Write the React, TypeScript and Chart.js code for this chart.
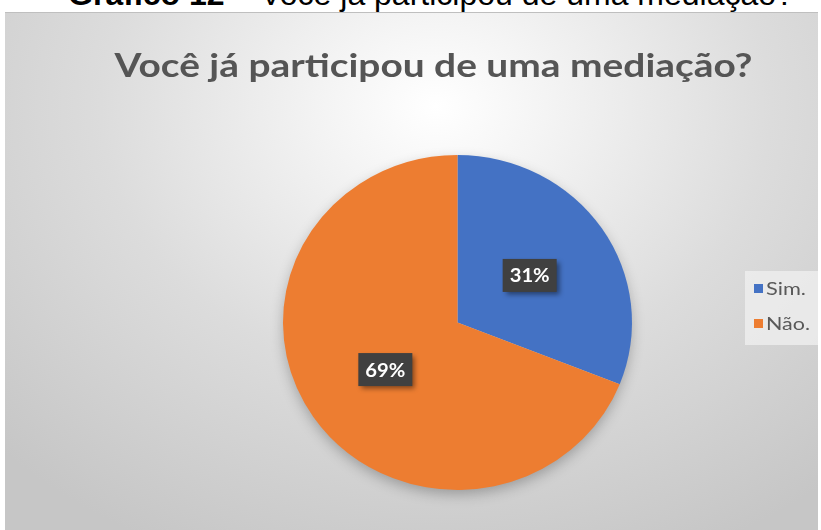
import React, { useEffect, useRef } from "react";
import { Chart, registerables } from "chart.js";

Chart.register(...registerables);

const categories = ["Sim.", "Não."];
const values = [31, 69];
const colors = ["#4472C4", "#ED7D31"];
const chartTitle = "Você já participou de uma mediação?";

const CW = 813;
const CH = 518;
const SX = 174.5 / 167.5; // horizontal stretch of the pie

function stretchedText(
  ctx: CanvasRenderingContext2D,
  text: string,
  x: number,
  y: number,
  width: number,
  align: "left" | "center"
) {
  const w = ctx.measureText(text).width;
  const s = width / w;
  ctx.save();
  ctx.translate(x, y);
  ctx.scale(s, 1);
  ctx.textAlign = align;
  ctx.fillText(text, 0, 0);
  ctx.restore();
}

const decorPlugin = {
  id: "decor",
  beforeDatasetsDraw(chart: any) {
    const ctx = chart.ctx;
    const meta = chart.getDatasetMeta(0);
    const arc = meta.data[0];
    if (!arc) return;
    const { x, y, outerRadius } = arc.getProps(["x", "y", "outerRadius"], true);
    ctx.save();
    ctx.translate(x, y);
    ctx.scale(SX, 1);
    ctx.translate(-x, -y);
    ctx.save();
    ctx.shadowColor = "rgba(0,0,0,0.28)";
    ctx.shadowBlur = 14;
    ctx.shadowOffsetY = 5;
    ctx.fillStyle = "#d0d0d0";
    ctx.beginPath();
    ctx.arc(x, y, outerRadius - 1, 0, Math.PI * 2);
    ctx.fill();
    ctx.restore();
  },
  afterDatasetsDraw(chart: any) {
    chart.ctx.restore();
  },
  afterDraw(chart: any) {
    const ctx = chart.ctx;
    // Title
    ctx.save();
    ctx.font = `bold 33px Lato, "Open Sans", sans-serif`;
    ctx.fillStyle = "#555555";
    ctx.textBaseline = "alphabetic";
    stretchedText(ctx, chartTitle, 428.5, 64.5, 638, "center");
    ctx.restore();

    // Data labels
    const meta = chart.getDatasetMeta(0);
    const total = values.reduce((a, b) => a + b, 0);
    meta.data.forEach((el: any, i: number) => {
      const p = el.tooltipPosition();
      const cx = el.x;
      const px = cx + (p.x - cx) * SX;
      const py = p.y;
      const txt = Math.round((values[i] / total) * 100) + "%";
      const bw = 54;
      const bh = 33;
      ctx.save();
      ctx.shadowColor = "rgba(0,0,0,0.45)";
      ctx.shadowBlur = 5;
      ctx.shadowOffsetX = 3;
      ctx.shadowOffsetY = 3;
      ctx.fillStyle = "#404040";
      ctx.fillRect(px - bw / 2, py - bh / 2, bw, bh);
      ctx.restore();
      ctx.save();
      ctx.font = `bold 18px Lato, "Open Sans", sans-serif`;
      ctx.fillStyle = "#ffffff";
      ctx.textBaseline = "alphabetic";
      stretchedText(ctx, txt, px, py + 7, 40, "center");
      ctx.restore();
    });

    // Legend
    ctx.save();
    ctx.fillStyle = "rgba(240,240,240,0.75)";
    ctx.fillRect(740, 259, 73, 74);
    ctx.font = `18px Lato, "Open Sans", sans-serif`;
    ctx.textBaseline = "alphabetic";
    categories.forEach((c, i) => {
      const cy = 277 + i * 35;
      ctx.fillStyle = colors[i];
      ctx.fillRect(749, cy - 5, 9, 9);
      ctx.fillStyle = "#595959";
      stretchedText(ctx, c, 761, cy + 6, i === 0 ? 40 : 44, "left");
    });
    ctx.restore();
  },
};

function PieChart() {
  const ref = useRef<HTMLCanvasElement | null>(null);
  useEffect(() => {
    if (!ref.current) return;
    const chart = new Chart(ref.current, {
      type: "pie",
      data: {
        labels: categories,
        datasets: [
          {
            data: values,
            backgroundColor: colors,
            borderWidth: 0,
          },
        ],
      },
      options: {
        responsive: false,
        animation: false,
        devicePixelRatio: 1,
        layout: {
          padding: { left: 285, right: 193, top: 143, bottom: 40 },
        },
        plugins: {
          legend: { display: false },
          title: { display: false },
          tooltip: { enabled: false },
        },
      },
      plugins: [decorPlugin],
    });
    return () => chart.destroy();
  }, []);
  return <canvas ref={ref} width={CW} height={CH} style={{ display: "block" }} />;
}

export default function App() {
  return (
    <div
      style={{
        position: "absolute",
        left: 0,
        top: 0,
        width: 821,
        height: 530,
        overflow: "hidden",
        background: "#ffffff",
      }}
    >
      <div
        style={{
          position: "absolute",
          left: 0,
          width: 862,
          top: -22,
          textAlign: "center",
          fontFamily: '"Liberation Sans", Arial, sans-serif',
          fontSize: 32,
          lineHeight: "32px",
          color: "#000",
          whiteSpace: "nowrap",
        }}
      >
        <b>Gráfico 12</b> – Você já participou de uma mediação?
      </div>
      <div
        style={{
          position: "absolute",
          left: 5,
          top: 12,
          width: CW,
          height: CH,
          borderTop: "1px solid #bfbfbf",
          boxSizing: "border-box",
          background:
            "radial-gradient(ellipse 75% 95% at 53% 18%, #ffffff 0%, #f4f4f4 18%, #dcdcdc 55%, #c6c6c6 100%)",
        }}
      >
        <div style={{ position: "absolute", left: 0, top: -1 }}>
          <PieChart />
        </div>
      </div>
    </div>
  );
}
